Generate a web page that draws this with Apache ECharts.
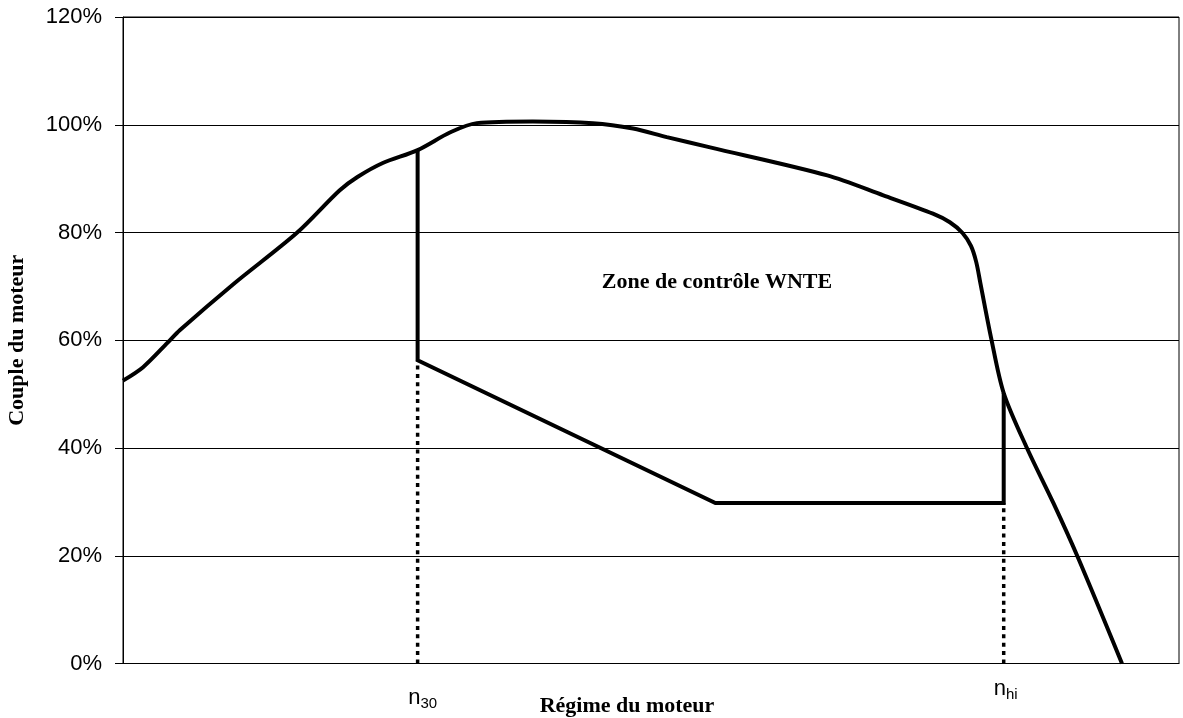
<!DOCTYPE html>
<html>
<head>
<meta charset="utf-8">
<script src="https://cdn.jsdelivr.net/npm/echarts@6/dist/echarts.min.js"></script>
<style>
html,body{margin:0;padding:0;background:#fff;}
#chart{width:1183px;height:718px;}
</style>
</head>
<body>
<div id="chart"></div>
<script>
// Full-load torque curve (engine speed in arbitrary units 0-100, torque in %)
const speed  = [0, 1.9, 4.2, 5.4, 10.5, 16.5, 20.5, 22.2, 24.6, 27.9, 31.0, 33.5, 38.8, 44.5, 48.3, 51.5, 55.6, 66.7, 72.0, 76.7, 78.3, 79.5, 80.3, 80.8, 81.2, 82.2, 83.4, 85.6, 88.1, 90.4, 94.6];
const torque = [52.5, 55.0, 59.5, 61.9, 70.5, 80.0, 87.8, 90.3, 92.9, 95.3, 98.6, 100.3, 100.6, 100.3, 99.3, 97.7, 95.8, 90.6, 86.9, 83.5, 81.9, 79.9, 77.5, 74.5, 70.5, 60.5, 50.2, 40.0, 29.8, 19.8, 0];
// WNTE control zone boundary
const zoneSpeed  = [27.9, 27.9, 56.1, 83.4, 83.4];
const zoneTorque = [95.3, 56.3, 29.8, 29.8, 50.2];
// Reference speeds
const n30 = 27.9, n30Torque = 56.3;
const nhi = 83.4, nhiTorque = 29.8;
const yTicks = [0, 20, 40, 60, 80, 100, 120];
const zoneLabel = 'Zone de contrôle WNTE';
const zoneLabelPos = [56.25, 70.8];

const sans = "'Liberation Sans', Arial, sans-serif";
const serif = "'Liberation Serif', 'Times New Roman', serif";

const chart = echarts.init(document.getElementById('chart'), null, {renderer: 'canvas'});
const zip = (a, b) => a.map((v, i) => [v, b[i]]);

chart.setOption({
  animation: false,
  backgroundColor: '#fff',
  grid: {left: 123, right: 4, top: 17, bottom: 54.5, show: true, borderColor: '#000', borderWidth: 1,
    containLabel: false, outerBoundsMode: 'none'},
  xAxis: {
    type: 'value', min: 0, max: 100,
    axisLine: {show: true, lineStyle: {color: '#000', width: 1}},
    axisTick: {show: false}, axisLabel: {show: false}, splitLine: {show: false},
    name: 'Régime du moteur', nameLocation: 'middle', nameGap: 32,
    nameTextStyle: {fontFamily: serif, fontWeight: 'bold', fontSize: 22, color: '#000', padding: [0, 48, 0, 0]}
  },
  yAxis: {
    type: 'value', min: yTicks[0], max: yTicks[yTicks.length - 1], interval: 20,
    axisLine: {show: true, lineStyle: {color: '#000', width: 1}},
    axisTick: {show: true, inside: false, length: 8, lineStyle: {color: '#000'}},
    axisLabel: {formatter: '{value}%', fontFamily: sans, fontSize: 22, color: '#000', margin: 21},
    splitLine: {show: true, lineStyle: {color: '#000', width: 1}},
    name: 'Couple du moteur', nameLocation: 'middle', nameRotate: 90, nameGap: 95,
    nameTextStyle: {fontFamily: serif, fontWeight: 'bold', fontSize: 22, color: '#000'}
  },
  series: [
    {
      type: 'line', data: zip(speed, torque), smooth: 0.3,
      symbol: 'none', lineStyle: {color: '#000', width: 4}, z: 5
    },
    {
      type: 'line', data: zip(zoneSpeed, zoneTorque), smooth: false,
      symbol: 'none', lineStyle: {color: '#000', width: 4, join: 'miter'}, z: 5
    },
    {
      type: 'line', data: [[n30, 0], [n30, n30Torque]], symbol: 'none',
      lineStyle: {color: '#000', width: 3.5, type: [4, 4.4]}, z: 4
    },
    {
      type: 'line', data: [[nhi, 0], [nhi, nhiTorque]], symbol: 'none',
      lineStyle: {color: '#000', width: 3.5, type: [4, 4.4]}, z: 4
    },
    {
      type: 'scatter', symbolSize: 0, silent: true, itemStyle: {opacity: 1},
      data: [
        {value: [n30, 0], label: {show: true, position: 'bottom', distance: 26, offset: [5, 0], formatter: '{n|n}{s|30}'}},
        {value: [nhi, 0], label: {show: true, position: 'bottom', distance: 17, offset: [2, 0], formatter: '{n|n}{s|hi}'}}
      ],
      label: {
        color: '#000',
        rich: {
          n: {fontFamily: sans, fontSize: 22, lineHeight: 22, padding: [0, 0, 5, 0], color: '#000'},
          s: {fontFamily: sans, fontSize: 15, lineHeight: 12, verticalAlign: 'bottom', color: '#000'}
        }
      }
    },
    {
      type: 'scatter', symbolSize: 0, silent: true, itemStyle: {opacity: 1},
      data: [{value: zoneLabelPos}],
      label: {show: true, position: 'inside', formatter: zoneLabel,
        fontFamily: serif, fontWeight: 'bold', fontSize: 22, color: '#000'}
    }
  ]
});
</script>
</body>
</html>
